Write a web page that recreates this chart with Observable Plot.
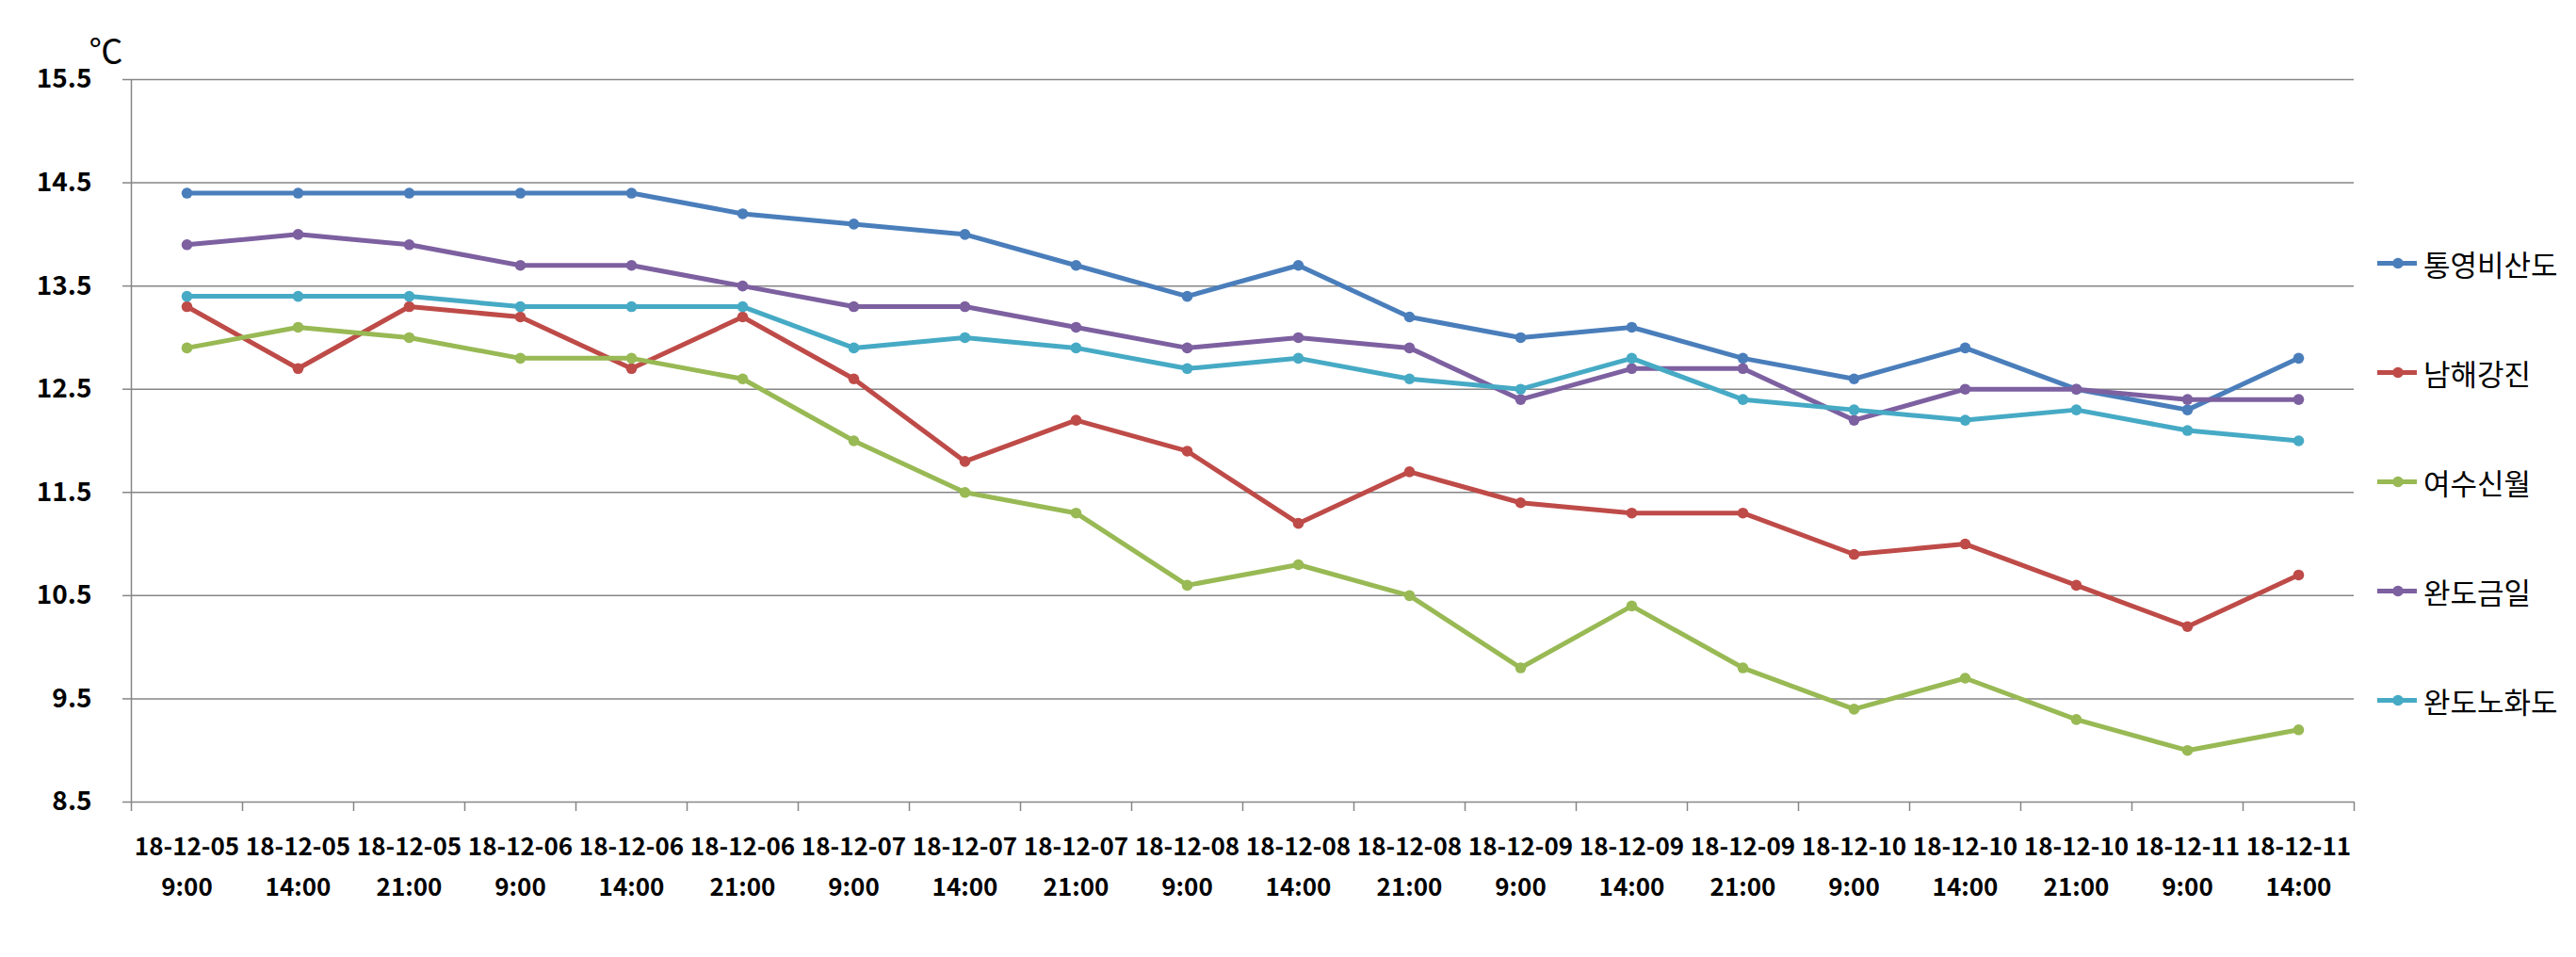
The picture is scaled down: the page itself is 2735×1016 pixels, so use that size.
<!DOCTYPE html>
<html>
<head>
<meta charset="utf-8">
<script src="https://cdn.jsdelivr.net/npm/d3@7"></script>
<script src="https://cdn.jsdelivr.net/npm/@observablehq/plot@0.6"></script>
<style>
  html, body { margin: 0; padding: 0; background: #ffffff; }
  #wrap { position: relative; width: 2735px; height: 1016px; }
  #legend { position: absolute; left: 2522px; top: 0; font-family: "Noto Sans CJK KR", sans-serif; font-size: 31px; color: #000; }
  .item { position: absolute; left: 0; display: flex; align-items: center; white-space: nowrap; transform: translateY(-50%); }
  .item svg { margin-right: 5px; }
</style>
</head>
<body>
<div id="wrap"><div id="legend"></div></div>
<script>
const dates = ["18-12-05","18-12-05","18-12-05","18-12-06","18-12-06","18-12-06","18-12-07","18-12-07","18-12-07","18-12-08","18-12-08","18-12-08","18-12-09","18-12-09","18-12-09","18-12-10","18-12-10","18-12-10","18-12-11","18-12-11"];
const times = ["9:00","14:00","21:00","9:00","14:00","21:00","9:00","14:00","21:00","9:00","14:00","21:00","9:00","14:00","21:00","9:00","14:00","21:00","9:00","14:00"];

const seriesNames = ["통영비산도","남해강진","여수신월","완도금일","완도노화도"];
const seriesColors = ["#4A7EBB","#BE4B48","#98B954","#7D60A0","#46AAC5"];

const tongyeong = [14.4,14.4,14.4,14.4,14.4,14.2,14.1,14.0,13.7,13.4,13.7,13.2,13.0,13.1,12.8,12.6,12.9,12.5,12.3,12.8];
const namhae    = [13.3,12.7,13.3,13.2,12.7,13.2,12.6,11.8,12.2,11.9,11.2,11.7,11.4,11.3,11.3,10.9,11.0,10.6,10.2,10.7];
const yeosu     = [12.9,13.1,13.0,12.8,12.8,12.6,12.0,11.5,11.3,10.6,10.8,10.5,9.8,10.4,9.8,9.4,9.7,9.3,9.0,9.2];
const wandoGeumil = [13.9,14.0,13.9,13.7,13.7,13.5,13.3,13.3,13.1,12.9,13.0,12.9,12.4,12.7,12.7,12.2,12.5,12.5,12.4,12.4];
const wandoNohwa  = [13.4,13.4,13.4,13.3,13.3,13.3,12.9,13.0,12.9,12.7,12.8,12.6,12.5,12.8,12.4,12.3,12.2,12.3,12.1,12.0];

const yTicks = [8.5,9.5,10.5,11.5,12.5,13.5,14.5,15.5];
const unitLabel = "℃";

const seriesValues = [tongyeong, namhae, yeosu, wandoGeumil, wandoNohwa];
const rows = seriesValues.flatMap((vals, s) => vals.map((v, i) => ({name: seriesNames[s], i, v})));
const idx = d3.range(dates.length);
const boundaries = d3.range(dates.length + 1).map(k => k - 0.5);

const numFont = "'Noto Sans CJK KR', 'Liberation Sans', sans-serif";
const gridColor = "#868686";

const chart = Plot.plot({
  width: 2735,
  height: 1016,
  marginLeft: 139,
  marginRight: 236,
  marginTop: 84,
  marginBottom: 165,
  style: {background: "#ffffff", fontFamily: numFont, color: "#000"},
  x: {type: "linear", domain: [-0.5, dates.length - 0.5]},
  y: {domain: [8.5, 15.5]},
  color: {domain: seriesNames, range: seriesColors},
  marks: [
    Plot.gridY(yTicks, {stroke: gridColor, strokeOpacity: 1, strokeWidth: 1.5}),
    Plot.ruleX([-0.5], {stroke: gridColor, strokeWidth: 1.5}),
    Plot.axisY(yTicks, {tickSize: 9, tickPadding: 33, stroke: gridColor, strokeWidth: 1.5,
      tickFormat: d => d.toFixed(1), fontSize: 28, fontWeight: "bold", fill: "#000", label: null}),
    Plot.axisX(boundaries, {tickSize: 10, stroke: gridColor, strokeWidth: 1.5, tickFormat: () => "", label: null}),
    Plot.axisX(idx, {tickSize: 0, tickPadding: 26, tickFormat: i => dates[i] + "\n" + times[i],
      lineHeight: 1.65, fontSize: 26, fontWeight: "bold", fill: "#000", label: null}),
    Plot.line(rows, {x: "i", y: "v", z: "name", stroke: "name", strokeWidth: 5, strokeLinejoin: "round"}),
    Plot.dot(rows, {x: "i", y: "v", fill: "name", r: 5.8}),
    Plot.text([unitLabel], {frameAnchor: "top-left", dx: -27, dy: -42, fontSize: 36, fill: "#000",
      fontFamily: "'Noto Sans CJK KR', sans-serif", textAnchor: "middle"})
  ]
});

const wrap = document.getElementById("wrap");
wrap.insertBefore(chart, wrap.firstChild);

const legend = document.getElementById("legend");
seriesNames.forEach((name, s) => {
  const item = document.createElement("div");
  item.className = "item";
  item.style.top = (279 + s * 116) + "px";
  item.innerHTML = `<svg width="46" height="14"><line x1="2" y1="7" x2="44" y2="7" stroke="${seriesColors[s]}" stroke-width="5"/><circle cx="24" cy="7" r="5.8" fill="${seriesColors[s]}"/></svg><span>${name}</span>`;
  legend.appendChild(item);
});
</script>
</body>
</html>
